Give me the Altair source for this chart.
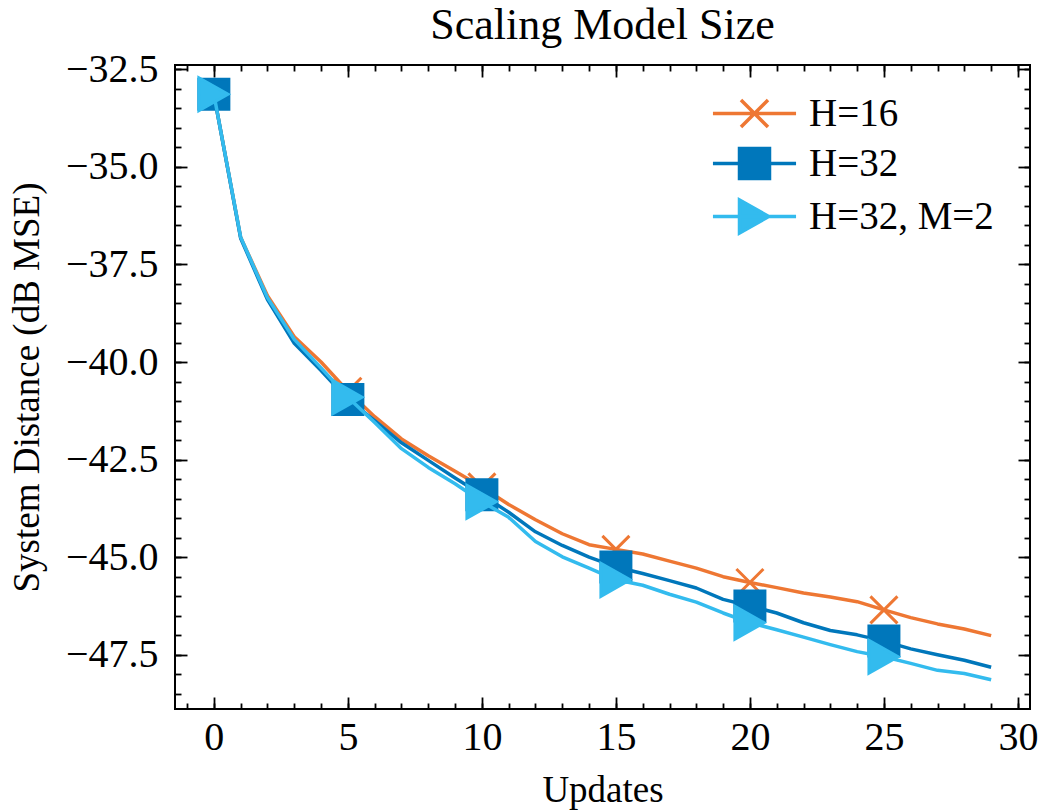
import altair as alt
import pandas as pd

# ---------------- data ----------------
updates = list(range(30))
h16 = [-33.14, -36.81, -38.30, -39.35, -40.00, -40.75, -41.40, -41.97, -42.40, -42.80,
       -43.20, -43.65, -44.04, -44.40, -44.68, -44.80, -44.92, -45.10, -45.28, -45.50,
       -45.65, -45.78, -45.92, -46.02, -46.14, -46.35, -46.55, -46.71, -46.84, -47.01]
h32 = [-33.14, -36.83, -38.40, -39.52, -40.22, -40.96, -41.50, -42.07, -42.52, -42.97,
       -43.40, -43.85, -44.35, -44.70, -45.00, -45.25, -45.42, -45.60, -45.79, -46.08,
       -46.25, -46.43, -46.68, -46.88, -46.99, -47.15, -47.35, -47.50, -47.64, -47.82]
h32m2 = [-33.14, -36.80, -38.35, -39.42, -40.15, -40.90, -41.55, -42.22, -42.70, -43.12,
         -43.58, -43.98, -44.60, -44.99, -45.28, -45.58, -45.72, -45.95, -46.15, -46.43,
         -46.68, -46.86, -47.05, -47.24, -47.42, -47.55, -47.72, -47.90, -47.98, -48.14]
series_names = ["H=16", "H=32", "H=32, M=2"]
series_values = [h16, h32, h32m2]
colors = ["#EE7733", "#0077BB", "#33BBEE"]
fills = ["transparent", "#0077BB", "#33BBEE"]
marker_every = 5

x_major = [0, 5, 10, 15, 20, 25, 30]
x_minor = list(range(-1, 31))
y_major = [-47.5, -45.0, -42.5, -40.0, -37.5, -35.0, -32.5]
y_minor = [-48.5, -48.0, -47.5, -47.0, -46.5, -46.0, -45.5, -45.0, -44.5, -44.0, -43.5,
           -43.0, -42.5, -42.0, -41.5, -41.0, -40.5, -40.0, -39.5, -39.0, -38.5, -38.0,
           -37.5, -37.0, -36.5, -36.0, -35.5, -35.0, -34.5, -34.0, -33.5, -33.0, -32.5]

# ---------------- styling ----------------
FONT = "Liberation Serif"
W, H = 855, 644
XDOM = [-1.45, 30.45]
YDOM = [-48.89, -32.39]
LW = 3.5

marker_paths = [
    "M-0.9,-0.9L0.9,0.9M-0.9,0.9L0.9,-0.9",
    "M-1,-1H1V1H-1Z",
    "M0.95,0L-1,1.1L-1,-1.1Z",
]
legend_paths = ["M-2.77,0H2.77" + p for p in marker_paths]

rows = []
for name, vals in zip(series_names, series_values):
    for u, v in zip(updates, vals):
        rows.append({"Updates": u, "value": v, "series": name})
df = pd.DataFrame(rows)


def xenc(axis):
    return alt.X("Updates:Q", scale=alt.Scale(domain=XDOM, nice=False, zero=False), axis=axis)


def yenc(axis):
    return alt.Y("value:Q", scale=alt.Scale(domain=YDOM, nice=False, zero=False), axis=axis)


def tick_axis(orient, offset, values, size):
    return alt.Axis(orient=orient, offset=offset, values=values, tickSize=size, tickWidth=1.8,
                    tickColor="black", labels=False, domain=False, grid=False, title=None)


ax_x_lab = alt.Axis(orient="bottom", values=x_major, format="d", ticks=False, tickSize=0,
                    domain=False, grid=False, labelPadding=8, labelFontSize=40, labelFlush=False,
                    title="Updates", titleFontSize=37, titlePadding=15)
ax_y_lab = alt.Axis(orient="left", values=y_major, format=".1f", ticks=False, tickSize=0,
                    domain=False, grid=False, labelPadding=17, labelFontSize=40, labelFlush=False,
                    title="System Distance (dB MSE)", titleFontSize=37, titlePadding=19)

axes = [
    (ax_x_lab, ax_y_lab),
    (tick_axis("top", -H, x_major, 12), tick_axis("right", -W, y_major, 12)),
    (tick_axis("top", -H, x_minor, 6), tick_axis("right", -W, y_minor, 6)),
    (tick_axis("bottom", -H, x_major, 12), tick_axis("left", -W, y_major, 12)),
    (tick_axis("bottom", -H, x_minor, 6), tick_axis("left", -W, y_minor, 6)),
    (None, None),
]

layers = []
k = 0
for i, name in enumerate(series_names):
    sdf = df[df["series"] == name]
    ax = axes[k]; k += 1
    line = alt.Chart(sdf).mark_line(strokeWidth=LW, color=colors[i], strokeJoin="round").encode(
        x=xenc(ax[0]), y=yenc(ax[1]))
    layers.append(line)
    mdf = sdf[sdf["Updates"] % marker_every == 0]
    ax = axes[k]; k += 1
    pts = alt.Chart(mdf).mark_point(shape=marker_paths[i], size=900, opacity=1, strokeWidth=3,
                                    stroke=colors[i], fill=fills[i], filled=False).encode(
        x=xenc(ax[0]), y=yenc(ax[1]))
    layers.append(pts)

leg = dict(title=None, orient="none", legendX=533, legendY=29)
legend_layer = alt.Chart(df).transform_filter("datum.Updates < -100").mark_point(
    size=900, opacity=1, strokeWidth=LW, filled=False).encode(
    x=xenc(None), y=yenc(None),
    shape=alt.Shape("series:N", scale=alt.Scale(domain=series_names, range=legend_paths),
                    legend=alt.Legend(**leg)),
    fill=alt.Fill("series:N", scale=alt.Scale(domain=series_names, range=fills),
                  legend=alt.Legend(**leg)),
    stroke=alt.Stroke("series:N", scale=alt.Scale(domain=series_names, range=colors),
                      legend=alt.Legend(**leg)),
)
layers.append(legend_layer)

chart = alt.layer(*layers).resolve_axis(x="independent", y="independent").properties(
    width=W, height=H,
    title=alt.Title("Scaling Model Size", fontSize=44, font=FONT, fontWeight="normal",
                    color="black", anchor="middle", offset=1),
    autosize=alt.AutoSizeParams(type="none"),
    padding={"left": 175, "top": 65, "right": 12, "bottom": 103},
).configure_view(stroke="black", strokeWidth=2).configure_axis(
    labelFont=FONT, titleFont=FONT, labelColor="black", titleColor="black",
    titleFontWeight="normal",
).configure_legend(
    labelFont=FONT, labelFontSize=39, labelColor="black", labelLimit=400, symbolSize=900,
    symbolStrokeWidth=LW, symbolOffset=27, labelOffset=35, rowPadding=7, padding=0,
)

chart.save("out.html", embed_options={"renderer": "svg", "actions": False})
